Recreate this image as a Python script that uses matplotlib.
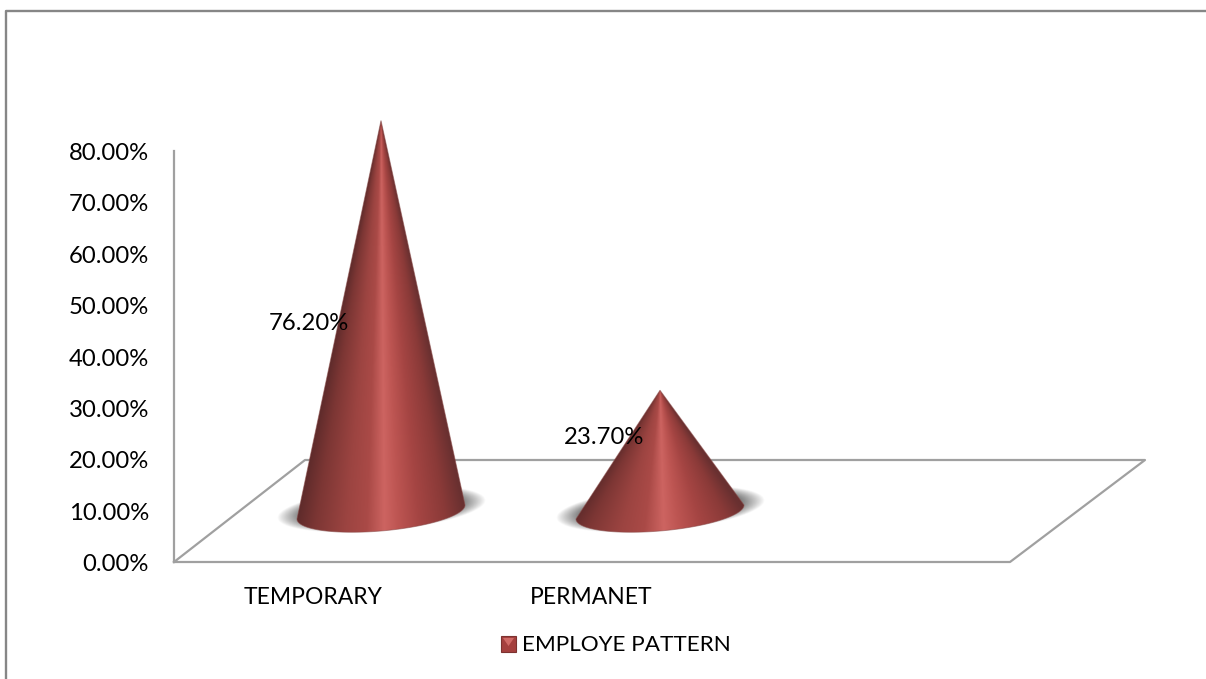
import numpy as np
import matplotlib
matplotlib.use('Agg')
import matplotlib.pyplot as plt
from matplotlib.colors import LinearSegmentedColormap
from matplotlib.patches import Polygon, Rectangle

plt.rcParams['font.family'] = ['Lato', 'DejaVu Sans']

# values
categories = ['TEMPORARY', 'PERMANET']
values = [76.20, 23.70]
value_labels = ['76.20%', '23.70%']
y_ticks = [0, 10, 20, 30, 40, 50, 60, 70, 80]
y_tick_labels = ['0.00%', '10.00%', '20.00%', '30.00%', '40.00%',
                 '50.00%', '60.00%', '70.00%', '80.00%']
legend_label = 'EMPLOYE PATTERN'

W, H = 1206, 679
px_per_unit = (562 - 151) / 80.0
px_per_cat = 279.0
x0_px, y0_px = 381.0, 562.0

fig = plt.figure(figsize=(W / 100, H / 100), dpi=100)
ax = fig.add_axes([0, 0, 1, 1])
xlim = (-x0_px / px_per_cat, (W - x0_px) / px_per_cat)
ylim = ((y0_px - H) / px_per_unit, y0_px / px_per_unit)
ax.set_xlim(xlim)
ax.set_ylim(ylim)
ax.axis('off')


def X(px):
    return (px - x0_px) / px_per_cat


def Y(py):
    return (y0_px - py) / px_per_unit


# chart border: only left and top show in the crop
ax.plot([X(6), X(6), X(1206)], [Y(679), Y(11), Y(11)], color='#868686', lw=1.7, zorder=1)

# floor and value axis
grey = '#a0a0a0'
ax.plot([X(174), X(1010), X(1145), X(305), X(174)],
        [Y(562), Y(562), Y(460), Y(460), Y(562)], color=grey, lw=1.6, zorder=2)
ax.plot([X(174), X(174)], [0, 80], color=grey, lw=1.6, zorder=2)
for t, lab in zip(y_ticks, y_tick_labels):
    ax.text(X(149), t - 0.5, lab, ha='right', va='center', fontsize=17.2, color='black')

cone_cmap = LinearSegmentedColormap.from_list('cone', [
    (0.00, '#5c2a2a'), (0.12, '#7c3634'), (0.30, '#9c4441'), (0.42, '#aa4a47'),
    (0.52, '#cd6461'), (0.60, '#bd5552'), (0.72, '#a54543'), (0.88, '#8a3a38'),
    (1.00, '#693030')])

base_y = Y(512)
half_w = 84 / px_per_cat
half_h = 19 / px_per_unit
tilt = 7 / px_per_unit

# label centres, placed by hand in the original chart
label_dx = [-72 / px_per_cat, -56 / px_per_cat]
label_y = [Y(324), Y(438)]

for i, (v, lab) in enumerate(zip(values, value_labels)):
    # soft shadow on the floor
    gx, gy = np.meshgrid(np.linspace(i - 0.42, i + 0.42, 300),
                         np.linspace(base_y - 9, base_y + 9, 200))
    dx = (gx - i) / (half_w * 1.24)
    dy = (gy - base_y - 0.5 - tilt * 1.24 * dx) / (half_h * 1.14)
    r = np.sqrt(dx ** 2 + dy ** 2)
    rgba = np.zeros(gx.shape + (4,))
    rgba[..., :3] = 0.38
    rgba[..., 3] = np.clip((1.0 - r) / 0.22, 0, 1) ** 0.9 * 0.8
    ax.imshow(rgba, extent=(gx.min(), gx.max(), gy.min(), gy.max()), origin='lower',
              aspect='auto', interpolation='bilinear', zorder=3)

    # cone: shade depends on the ray through the apex, clipped to the outline
    apex_y = base_y + v
    th = np.linspace(np.pi, 2 * np.pi, 121)
    rx = i + half_w * np.cos(th)
    ry = base_y + half_h * np.sin(th) + tilt * np.cos(th)
    outline = np.column_stack([np.r_[i, rx], np.r_[apex_y, ry]])
    cx, cy = np.meshgrid(np.linspace(i - half_w, i + half_w, 400),
                         np.linspace(base_y - half_h * 1.5, apex_y, 800))
    frac = np.maximum((apex_y - cy) / v, 1e-3)
    u = np.clip((cx - i) / (half_w * frac), -1, 1)
    im = ax.imshow((u + 1) / 2, extent=(i - half_w, i + half_w, cy.min(), cy.max()),
                   origin='lower', aspect='auto', cmap=cone_cmap, vmin=0, vmax=1,
                   interpolation='bilinear', zorder=4)
    clip = Polygon(outline, closed=True, transform=ax.transData, fc='none', ec='none')
    ax.add_patch(clip)
    im.set_clip_path(clip)
    # thin soft edge so the clipped outline isn't jagged
    ax.add_patch(Polygon(outline, closed=True, fc='none', ec='#8a4a48', lw=0.7, alpha=0.55, zorder=5))

    ax.text(i + label_dx[i], label_y[i], lab, ha='center', va='center',
            fontsize=17.2, color='black', zorder=6)

# category labels sit left of the cones because of the 3D layout
for i, cat in enumerate(categories):
    ax.text(i - 68 / px_per_cat - (0 if i == 0 else 1 / px_per_cat), Y(598), cat,
            ha='center', va='center', fontsize=16.5)

# legend
ax.add_patch(Rectangle((X(500.5), Y(651.5)), X(516) - X(500.5), Y(636) - Y(651.5),
                       fc='#a5403e', ec='#7d3230', lw=0.8))
ax.fill([X(503), X(514), X(508.5)], [Y(638), Y(638), Y(646)], color='#d06a66', lw=0)
ax.text(X(522), Y(645), legend_label, ha='left', va='center', fontsize=16.2)

ax.set_xlim(xlim)
ax.set_ylim(ylim)
fig.savefig('out.png', dpi=100)
